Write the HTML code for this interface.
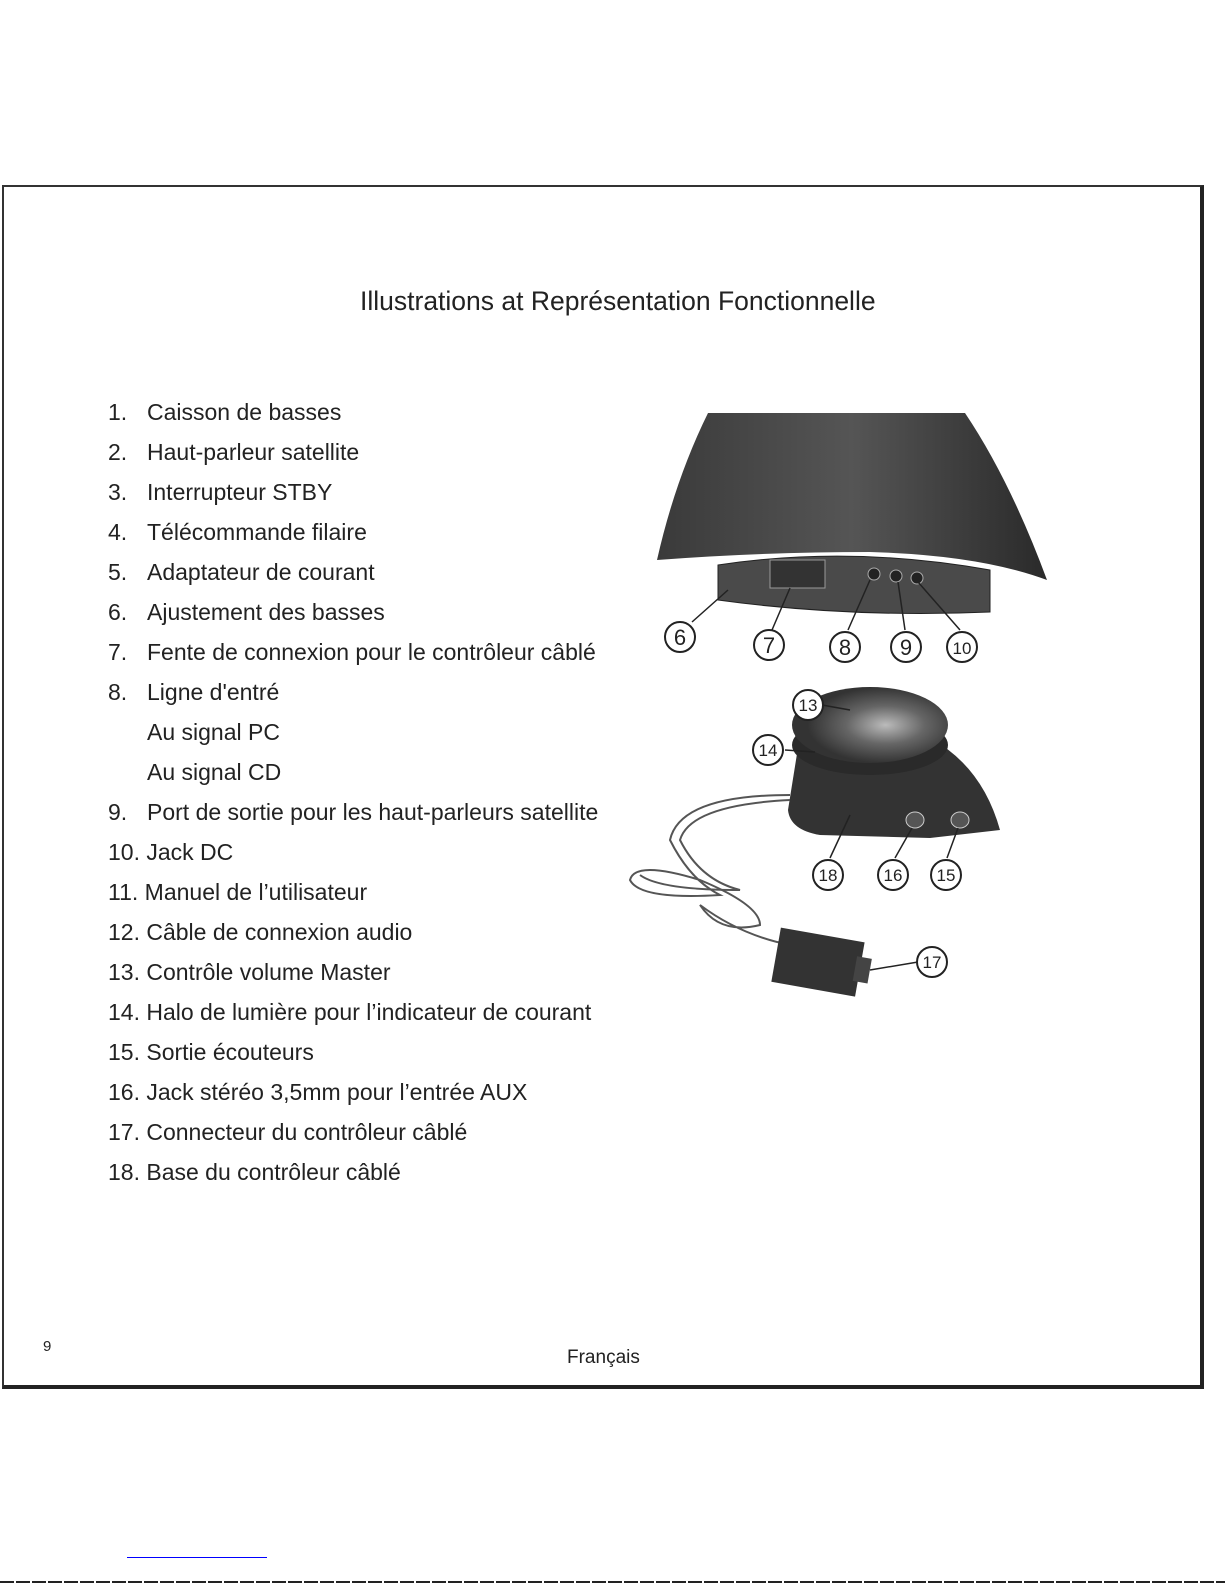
<!DOCTYPE html>
<html><head><meta charset="utf-8"><style>
body{margin:0;width:1225px;height:1585px;background:#fff;position:relative;font-family:"Liberation Sans",sans-serif;color:#222;overflow:hidden}
.frame{position:absolute;left:2px;top:185px;width:1196px;height:1198px;border:2px solid #333;border-right:4px solid #222;border-bottom:4px solid #222}
.t{position:absolute;white-space:nowrap}
.li{position:absolute;left:108px;font-size:23px;white-space:nowrap}
.li span{position:absolute;left:39px}
</style></head><body>
<div class="frame"></div>
<div class="t" style="left:360px;top:286px;font-size:26.5px">Illustrations at Représentation Fonctionnelle</div>
<div class="li" style="top:399px">1.<span>Caisson de basses</span></div>
<div class="li" style="top:439px">2.<span>Haut-parleur satellite</span></div>
<div class="li" style="top:479px">3.<span>Interrupteur STBY</span></div>
<div class="li" style="top:519px">4.<span>Télécommande filaire</span></div>
<div class="li" style="top:559px">5.<span>Adaptateur de courant</span></div>
<div class="li" style="top:599px">6.<span>Ajustement des basses</span></div>
<div class="li" style="top:639px">7.<span>Fente de connexion pour le contrôleur câblé</span></div>
<div class="li" style="top:679px">8.<span>Ligne d'entré</span></div>
<div class="li" style="top:719px"><span>Au signal PC</span></div>
<div class="li" style="top:759px"><span>Au signal CD</span></div>
<div class="li" style="top:799px">9.<span>Port de sortie pour les haut-parleurs satellite</span></div>
<div class="li" style="top:839px">10. Jack DC</div>
<div class="li" style="top:879px">11. Manuel de l’utilisateur</div>
<div class="li" style="top:919px">12. Câble de connexion audio</div>
<div class="li" style="top:959px">13. Contrôle volume Master</div>
<div class="li" style="top:999px">14. Halo de lumière pour l’indicateur de courant</div>
<div class="li" style="top:1039px">15. Sortie écouteurs</div>
<div class="li" style="top:1079px">16. Jack stéréo 3,5mm pour l’entrée AUX</div>
<div class="li" style="top:1119px">17. Connecteur du contrôleur câblé</div>
<div class="li" style="top:1159px">18. Base du contrôleur câblé</div>
<div class="t" style="left:43px;top:1338px;font-size:15px">9</div>
<div class="t" style="left:567px;top:1347px;font-size:19px">Français</div>
<div style="position:absolute;left:127px;top:1557px;width:140px;height:1px;background:#00f"></div>
<div style="position:absolute;left:0;top:1581px;width:1225px;height:2px;background:repeating-linear-gradient(90deg,#222 0 14px,#fff 14px 16px)"></div>
<svg style="position:absolute;left:0;top:0" width="1225" height="1585">
<defs><linearGradient id="g" x1="0" x2="1"><stop offset="0" stop-color="#3a3a3a"/><stop offset=".5" stop-color="#555"/><stop offset="1" stop-color="#2a2a2a"/></linearGradient>
<radialGradient id="k" cx=".6" cy=".5"><stop offset="0" stop-color="#bbb"/><stop offset=".5" stop-color="#666"/><stop offset="1" stop-color="#333"/></radialGradient></defs>
<path d="M708 413 L965 413 Q1010 480 1047 580 Q980 555 870 552 Q760 552 657 560 Q675 480 708 413Z" fill="url(#g)"/>
<path d="M718 565 Q850 545 990 570 L990 612 Q850 618 718 600Z" fill="#4a4a4a" stroke="#222"/>
<rect x="770" y="560" width="55" height="28" fill="#333" stroke="#999"/>
<circle cx="874" cy="574" r="6" fill="#222" stroke="#aaa"/><circle cx="896" cy="576" r="6" fill="#222" stroke="#aaa"/><circle cx="917" cy="578" r="6" fill="#222" stroke="#aaa"/>
<path d="M800 735 Q830 715 880 720 Q975 740 1000 830 L930 838 L820 835 Q790 830 788 810Z" fill="#333"/>
<ellipse cx="870" cy="745" rx="78" ry="30" fill="#2a2a2a"/>
<ellipse cx="870" cy="725" rx="78" ry="38" fill="url(#k)"/>
<ellipse cx="915" cy="820" rx="9" ry="8" fill="#555" stroke="#ccc"/><ellipse cx="960" cy="820" rx="9" ry="8" fill="#555" stroke="#ccc"/>
<g fill="none" stroke="#555" stroke-width="2">
<path d="M790 795 Q680 795 670 840 Q690 880 720 895 Q640 900 630 880 Q635 860 700 880 Q760 905 760 925 Q720 935 700 905 Q740 935 790 945"/>
<path d="M790 800 Q690 805 680 840 Q700 880 740 890 Q660 890 640 875"/>
</g>
<g transform="rotate(10 820 965)"><rect x="775" y="935" width="85" height="55" fill="#333"/><rect x="855" y="950" width="15" height="25" fill="#444"/></g>
<g stroke="#222" stroke-width="1.5" fill="none">
<line x1="692" y1="622" x2="728" y2="590"/><line x1="772" y1="630" x2="790" y2="588"/><line x1="848" y1="630" x2="870" y2="580"/><line x1="905" y1="630" x2="898" y2="582"/><line x1="960" y1="630" x2="918" y2="582"/>
<line x1="822" y1="705" x2="850" y2="710"/><line x1="785" y1="750" x2="815" y2="752"/><line x1="830" y1="858" x2="850" y2="815"/><line x1="895" y1="858" x2="912" y2="828"/><line x1="947" y1="858" x2="958" y2="828"/><line x1="870" y1="970" x2="918" y2="962"/>
</g>
<g font-family="Liberation Sans,sans-serif" font-size="22" text-anchor="middle" fill="#222">
<g fill="#fff" stroke="#222" stroke-width="2">
<circle cx="680" cy="637" r="15"/><circle cx="769" cy="645" r="15"/><circle cx="845" cy="647" r="15"/><circle cx="906" cy="647" r="15"/><circle cx="962" cy="647" r="15"/>
<circle cx="808" cy="705" r="15"/><circle cx="768" cy="750" r="15"/><circle cx="828" cy="875" r="15"/><circle cx="893" cy="875" r="15"/><circle cx="946" cy="875" r="15"/><circle cx="932" cy="962" r="15"/></g>
<text x="680" y="645">6</text><text x="769" y="653">7</text><text x="845" y="655">8</text><text x="906" y="655">9</text><text x="962" y="654" font-size="17">10</text>
<text x="808" y="711" font-size="17">13</text><text x="768" y="756" font-size="17">14</text><text x="828" y="881" font-size="17">18</text><text x="893" y="881" font-size="17">16</text><text x="946" y="881" font-size="17">15</text><text x="932" y="968" font-size="17">17</text>
</g>
</svg>
</body></html>
